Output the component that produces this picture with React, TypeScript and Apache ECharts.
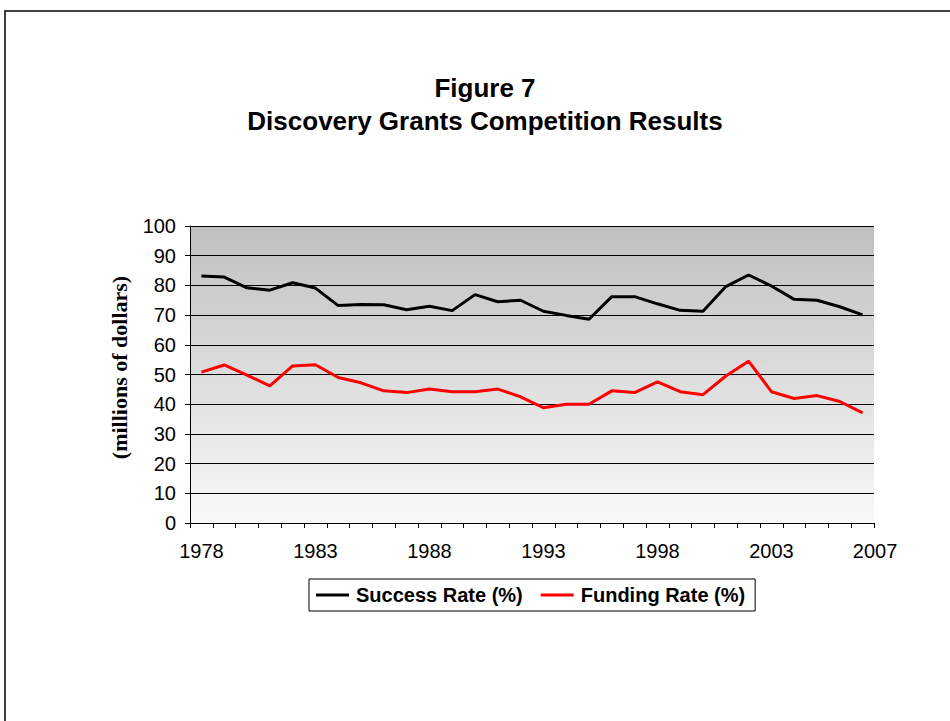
import React, { useEffect, useRef } from "react";
import * as echarts from "echarts";

const years = [
  "1978", "1979", "1980", "1981", "1982", "1983", "1984", "1985", "1986", "1987",
  "1988", "1989", "1990", "1991", "1992", "1993", "1994", "1995", "1996", "1997",
  "1998", "1999", "2000", "2001", "2002", "2003", "2004", "2005", "2006", "2007",
];

const successRate = [
  83.2, 82.8, 79.2, 78.4, 80.9, 79.1, 73.2, 73.6, 73.5, 71.8,
  73.0, 71.5, 76.9, 74.5, 75.0, 71.3, 69.9, 68.6, 76.2, 76.2,
  73.8, 71.6, 71.3, 79.6, 83.5, 79.8, 75.3, 75.0, 72.8, 70.1,
];

const fundingRate = [
  50.8, 53.2, 49.8, 46.2, 52.9, 53.3, 49.0, 47.2, 44.5, 43.9,
  45.1, 44.2, 44.2, 45.1, 42.5, 38.8, 40.0, 40.0, 44.5, 43.9,
  47.5, 44.2, 43.2, 49.5, 54.5, 44.2, 41.9, 42.9, 40.9, 37.1,
];

const FONT = "Arial, 'Liberation Sans', sans-serif";
const SERIF = "'Times New Roman', 'Liberation Serif', serif";

export default function App() {
  const ref = useRef<HTMLDivElement>(null);

  useEffect(() => {
    if (!ref.current) return;
    const chart = echarts.init(ref.current, null, { renderer: "svg" });
    const lastIdx = years.length - 1;
    chart.setOption({
      animation: false,
      backgroundColor: "#ffffff",
      title: {
        text: "Figure 7\nDiscovery Grants Competition Results",
        left: 480,
        top: 66,
        textAlign: "center",
        textStyle: {
          fontFamily: FONT,
          fontWeight: "bold",
          fontSize: 26,
          lineHeight: 33,
          color: "#000",
        },
      },
      graphic: [
        {
          type: "rect",
          shape: { x: 5, y: 11, width: 1200, height: 1200 },
          style: { fill: "none", stroke: "#000", lineWidth: 1.5 },
          silent: true,
        },
      ],
      legend: {
        left: 309,
        top: 579,
        padding: [6, 10, 6, 7],
        borderColor: "#000",
        borderWidth: 1,
        itemGap: 18,
        itemWidth: 33,
        itemHeight: 3,
        icon: "rect",
        textStyle: { fontFamily: FONT, fontWeight: "bold", fontSize: 20, color: "#000", padding: [0, 0, 0, 2] },
        data: ["Success Rate (%)", "Funding Rate (%)"],
      },
      grid: {
        left: 190,
        right: 76,
        top: 226,
        bottom: 198,
        show: true,
        borderWidth: 0,
        backgroundColor: {
          type: "linear",
          x: 0,
          y: 0,
          x2: 0,
          y2: 1,
          colorStops: [
            { offset: 0, color: "#c0c0c0" },
            { offset: 1, color: "#f9f9f9" },
          ],
        },
      },
      xAxis: {
        type: "category",
        data: years,
        boundaryGap: true,
        axisLine: { show: true, lineStyle: { color: "#000", width: 1 } },
        axisTick: { show: true, interval: 0, length: 5, lineStyle: { color: "#000" } },
        axisLabel: {
          interval: (i: number) => i % 5 === 0 || i === lastIdx,
          color: "#000",
          fontFamily: FONT,
          fontSize: 20,
          margin: 18,
          formatter: (v: string, i: number) => (i === lastIdx ? "{last|" + v + "}" : v),
          rich: {
            last: { fontFamily: FONT, fontSize: 20, color: "#000", padding: [0, 0, 0, 25] },
          },
        },
        splitLine: { show: false },
      },
      yAxis: {
        type: "value",
        min: 0,
        max: 100,
        interval: 10,
        name: "(millions of dollars)",
        nameLocation: "middle",
        nameRotate: 90,
        nameGap: 60,
        nameTextStyle: {
          fontFamily: SERIF,
          fontWeight: "bold",
          fontSize: 22,
          color: "#000",
          padding: [0, 0, 0, 14],
        },
        axisLine: { show: true, lineStyle: { color: "#000", width: 1 } },
        axisTick: { show: true, length: 5, lineStyle: { color: "#000" } },
        axisLabel: { color: "#000", fontFamily: FONT, fontSize: 20, margin: 14 },
        splitLine: { show: true, lineStyle: { color: "#000", width: 1 } },
      },
      series: [
        {
          name: "Success Rate (%)",
          type: "line",
          data: successRate,
          symbol: "none",
          lineStyle: { color: "#000", width: 3 },
          itemStyle: { color: "#000" },
        },
        {
          name: "Funding Rate (%)",
          type: "line",
          data: fundingRate,
          symbol: "none",
          lineStyle: { color: "#ff0000", width: 3 },
          itemStyle: { color: "#ff0000" },
        },
      ],
    });
    return () => chart.dispose();
  }, []);

  return (
    <div
      ref={ref}
      style={{ position: "fixed", left: 0, top: 0, width: 950, height: 721 }}
    />
  );
}
